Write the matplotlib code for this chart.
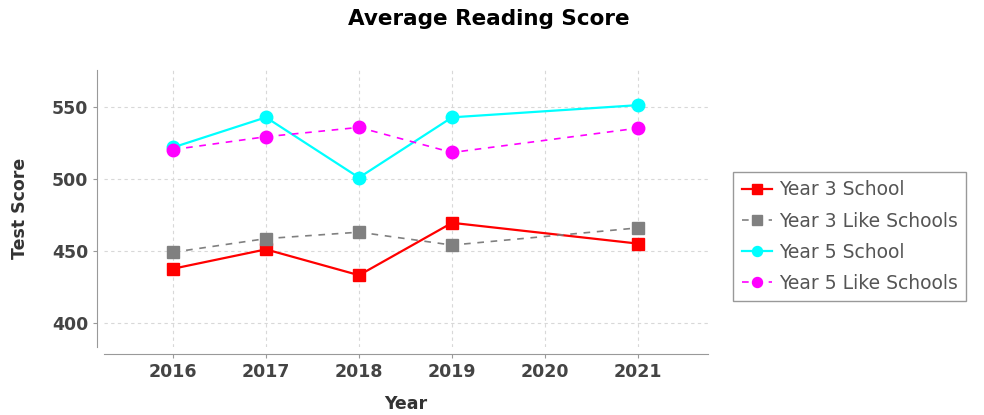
import matplotlib
matplotlib.use('Agg')
import matplotlib.pyplot as plt

# data
years = [2016, 2017, 2018, 2019, 2021]
y3_school = [437.5, 451, 433, 469.5, 455]
y3_like = [449, 458.5, 463, 454, 466]
y5_school = [522, 543, 501, 543, 551.5]
y5_like = [520.5, 529.5, 536, 518.5, 535.5]
xticks = [2016, 2017, 2018, 2019, 2020, 2021]
yticks = [400, 450, 500, 550]

plt.rcParams['font.family'] = ['DejaVu Sans']

fig = plt.figure(figsize=(9.84, 4.15), dpi=100)
ax = fig.add_axes([0.1057, 0.1639, 0.6138, 0.6675])

ax.plot(years, y3_school, color='#ff0000', lw=1.6, marker='s', ms=9, label='Year 3 School')
ax.plot(years, y3_like, color='#808080', lw=1.2, ls=(0, (4, 4)), marker='s', ms=9, label='Year 3 Like Schools')
ax.plot(years, y5_school, color='#00ffff', lw=1.6, marker='o', ms=9, label='Year 5 School')
ax.plot(years, y5_like, color='#ff00ff', lw=1.2, ls=(0, (4, 4)), marker='o', ms=9, label='Year 5 Like Schools')

ax.set_xlim(2015.26, 2021.75)
ax.set_ylim(383, 576)
ax.set_xticks(xticks)
ax.set_yticks(yticks)
ax.grid(True, color='#d8d8d8', ls=(0, (3, 3)), lw=0.8)
ax.set_axisbelow(True)

for s in ['top', 'right']:
    ax.spines[s].set_visible(False)
for s in ['left', 'bottom']:
    ax.spines[s].set_position(('outward', 5))
    ax.spines[s].set_color('#999999')
ax.tick_params(colors='#999999', length=3, labelcolor='#444444', labelsize=12.5)
for lab in ax.get_xticklabels() + ax.get_yticklabels():
    lab.set_fontweight('bold')

ax.set_xlabel('Year', fontsize=12.5, fontweight='bold', color='#333333', labelpad=10)
ax.set_ylabel('Test Score', fontsize=12.5, fontweight='bold', color='#333333', labelpad=16)
fig.text(0.497, 0.955, 'Average Reading Score', ha='center', va='center',
         fontsize=15.5, fontweight='bold', color='black')

leg = fig.legend(loc='upper left', bbox_to_anchor=(0.745, 0.5855), fontsize=13.5,
                 frameon=True, fancybox=False, edgecolor='#808080', labelcolor='#555555',
                 handlelength=1.6, handletextpad=0.4, borderpad=0.45, labelspacing=0.65,
                 markerscale=0.8, borderaxespad=0)
leg.get_frame().set_linewidth(1)

fig.savefig('out.png', dpi=100)
